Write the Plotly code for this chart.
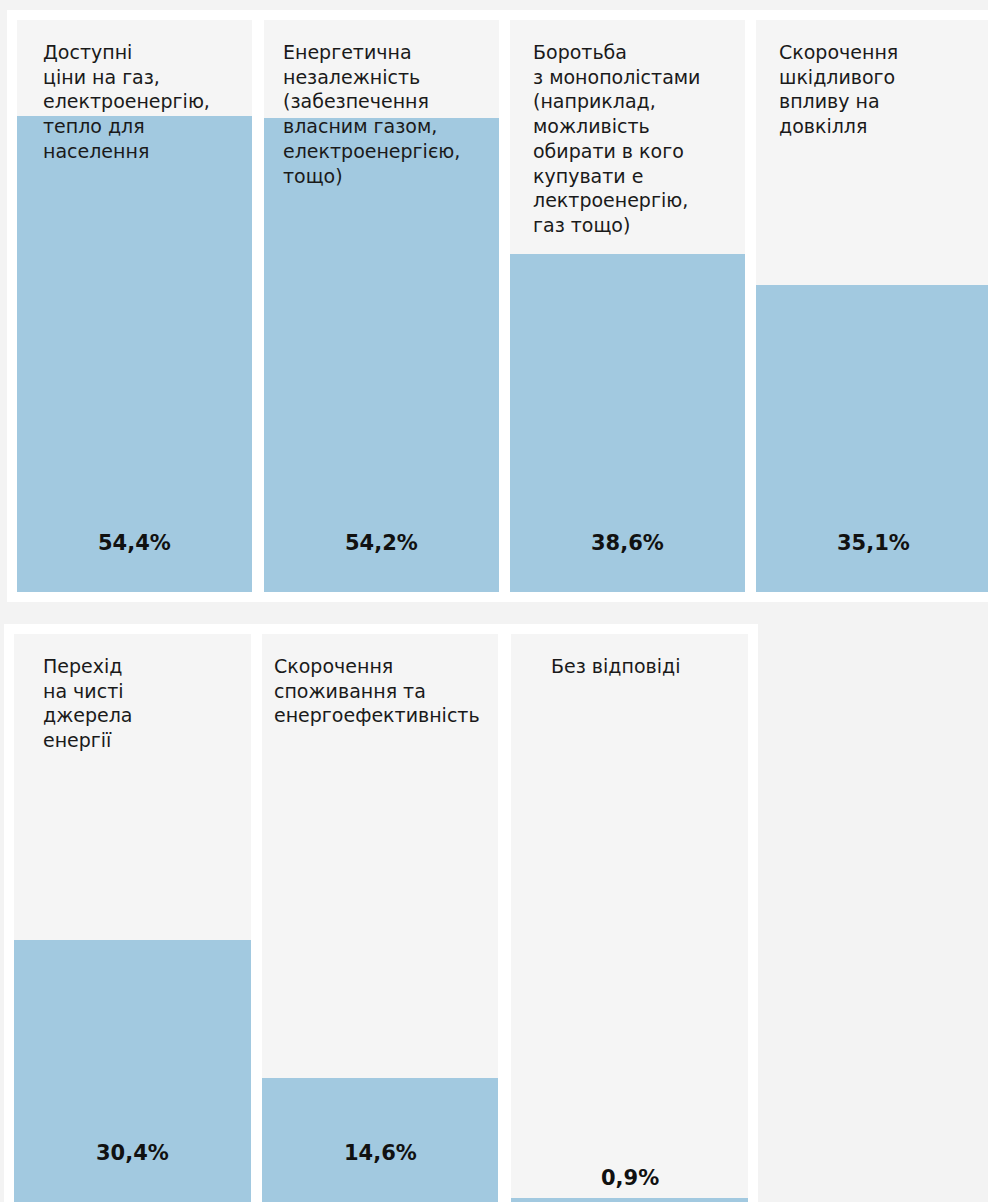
import plotly.graph_objects as go

# ---- data ----
categories = [
    "Доступні<br>ціни на газ,<br>електроенергію,<br>тепло для<br>населення",
    "Енергетична<br>незалежність<br>(забезпечення<br>власним газом,<br>електроенергією,<br>тощо)",
    "Боротьба<br>з монополістами<br>(наприклад,<br>можливість<br>обирати в кого<br>купувати е<br>лектроенергію,<br>газ тощо)",
    "Скорочення<br>шкідливого<br>впливу на<br>довкілля",
    "Перехід<br>на чисті<br>джерела<br>енергії",
    "Скорочення<br>споживання та<br>енергоефективність",
    "Без відповіді",
]
values = [54.4, 54.2, 38.6, 35.1, 30.4, 14.6, 0.9]
value_labels = ["54,4%", "54,2%", "38,6%", "35,1%", "30,4%", "14,6%", "0,9%"]

# ---- layout geometry (pixels) ----
W, H = 988, 1202
BAR_COLOR = "#a2c9e0"
PANEL_BG = "#f5f5f5"
PAGE_BG = "#f3f3f3"
FONT = "DejaVu Sans"

# panel boxes: (left, right, top, bottom) in pixels
panels = [
    (17, 252, 20, 592), (264, 499, 20, 592), (510, 745, 20, 592), (756, 991, 20, 592),
    (14, 251, 634, 1206), (262, 498, 634, 1206), (511, 748, 634, 1206),
]
text_left = [41, 281, 531, 777, 41, 272, 549]
YMAX = 65.4


def px(x):
    return x / W


def py(y):
    return 1 - y / H


fig = go.Figure()
annotations = []
shapes = [
    dict(type="rect", xref="paper", yref="paper", x0=px(7), x1=1.01, y0=py(602), y1=py(10),
         fillcolor="white", line=dict(width=0), layer="below"),
    dict(type="rect", xref="paper", yref="paper", x0=px(4), x1=px(758), y0=-0.01, y1=py(624),
         fillcolor="white", line=dict(width=0), layer="below"),
]
for i, (cat, val, lab) in enumerate(zip(categories, values, value_labels)):
    l, r, t, b = panels[i]
    n = "" if i == 0 else str(i + 1)
    xa, ya = "x" + n, "y" + n
    unit = (b - t) / YMAX  # px per unit
    vis_b = min(b, H)
    ymin = (b - vis_b) / unit
    shapes.append(dict(type="rect", xref="paper", yref="paper", x0=px(l), x1=min(px(r), 1.01),
                       y0=py(vis_b) - 0.01 * (vis_b == H), y1=py(t),
                       fillcolor=PANEL_BG, line=dict(width=0), layer="below"))
    fig.add_trace(go.Bar(x=[0], y=[val], width=[1], marker=dict(color=BAR_COLOR, line=dict(width=0)),
                         xaxis=xa, yaxis=ya, hoverinfo="skip", showlegend=False))
    fig.layout["xaxis" + n] = dict(domain=[px(l), min(px(r), 1)], range=[-0.5, 0.5],
                                   visible=False, fixedrange=True, anchor=ya)
    fig.layout["yaxis" + n] = dict(domain=[py(vis_b), py(t)], range=[ymin, YMAX],
                                   visible=False, fixedrange=True, anchor=xa)
    # category text
    annotations.append(dict(text=cat, x=px(text_left[i]), y=py(t + 19), xref="paper", yref="paper",
                            xanchor="left", yanchor="top", align="left", showarrow=False,
                            font=dict(family=FONT, size=19, color="#1a1a1a")))
    # value label: near the panel bottom, or just above a very short bar
    bar_px = val * unit
    if bar_px < 60:
        label_y = b - bar_px - 20
    else:
        label_y = b - (49 if i < 4 else 53)
    annotations.append(dict(text="<b>" + lab + "</b>", x=(px(l) + px(r)) / 2, y=py(label_y),
                            xref="paper", yref="paper",
                            xanchor="center", yanchor="middle", showarrow=False,
                            font=dict(family=FONT, size=21, color="#111111")))

fig.update_layout(width=W, height=H, margin=dict(l=0, r=0, t=0, b=0),
                  paper_bgcolor=PAGE_BG, plot_bgcolor="rgba(0,0,0,0)",
                  annotations=annotations, shapes=shapes, bargap=0)

fig.write_html("out.html", config={"displayModeBar": False},
               post_script="document.body.style.margin='0';document.body.style.overflow='hidden';")
